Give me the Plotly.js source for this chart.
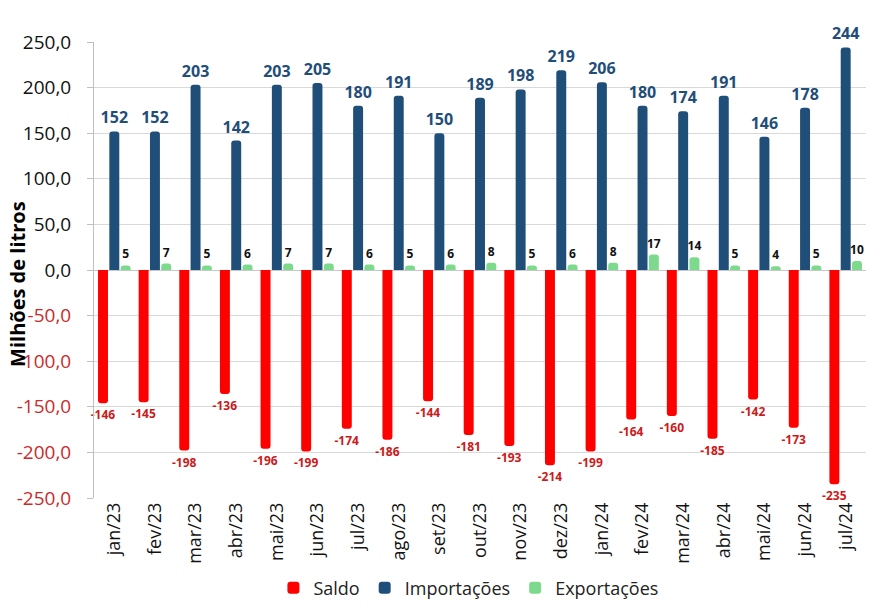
<!DOCTYPE html>
<html>
<head>
<meta charset="utf-8">
<script src="https://cdn.plot.ly/plotly-3.0.1.min.js"></script>
<style>html,body{margin:0;padding:0;background:#fff;}#chart{width:896px;height:608px;}</style>
</head>
<body>
<div id="chart"></div>
<script>
const categories = ["jan/23","fev/23","mar/23","abr/23","mai/23","jun/23","jul/23","ago/23","set/23","out/23","nov/23","dez/23","jan/24","fev/24","mar/24","abr/24","mai/24","jun/24","jul/24"];
const saldo = [-146,-145,-198,-136,-196,-199,-174,-186,-144,-181,-193,-214,-199,-164,-160,-185,-142,-173,-235];
const importacoes = [152,152,203,142,203,205,180,191,150,189,198,219,206,180,174,191,146,178,244];
const exportacoes = [5,7,5,6,7,7,6,5,6,8,5,6,8,17,14,5,4,5,10];
const yTickVals = [-250,-200,-150,-100,-50,0,50,100,150,200,250];
const yTitle = 'Milhões de litros';
const yTickText = yTickVals.map(v => {
  const s = v.toFixed(1).replace('.', ',');
  return v < 0 ? '<span style="color:#cc2a2a">' + s + '</span>' : s;
});

const common = {type:'bar', x:categories, textposition:'outside', cliponaxis:false, constraintext:'none', hoverinfo:'skip'};
const traces = [
  Object.assign({}, common, {name:'Saldo', y:saldo, text:saldo.map(String),
    marker:{color:'#ff0000'}, textfont:{family:'Open Sans', size:12, color:'#cc1a1a', weight:'bold'}}),
  Object.assign({}, common, {name:'Importações', y:importacoes, text:importacoes.map(String),
    marker:{color:'#1f4e79'}, textfont:{family:'Open Sans', size:16, color:'#1f4e79', weight:'bold'}}),
  Object.assign({}, common, {name:'Exportações', y:exportacoes, text:exportacoes.map(String),
    marker:{color:'#7dda8c'}, textfont:{family:'Open Sans', size:12, color:'#111111', weight:'bold'}})
];

const layout = {
  width:896, height:608,
  margin:{l:94, r:30, t:42, b:110, autoexpand:false},
  paper_bgcolor:'#ffffff', plot_bgcolor:'#ffffff',
  barmode:'group', bargap:0.165, bargroupgap:0.12, barcornerradius:3,
  font:{family:'Open Sans', color:'#000000'},
  showlegend:true,
  legend:{orientation:'h', x:0.485, xanchor:'center', yref:'container', y:0.033, yanchor:'middle',
    font:{family:'Open Sans', size:18, color:'#222222'}, itemwidth:30, tracegroupgap:0},
  xaxis:{type:'category', tickangle:-90, tickfont:{family:'Open Sans', size:18, color:'#111111'},
    showgrid:false, showline:false, zeroline:false, ticks:'', automargin:false},
  yaxis:{range:[-250,250], tickvals:yTickVals, ticktext:yTickText, automargin:false,
    tickfont:{family:'Open Sans', size:19, color:'#111111'}, ticklabelstandoff:12,
    showgrid:true, gridcolor:'#d9d9d9', gridwidth:1,
    zeroline:true, zerolinecolor:'#c8c8c8', zerolinewidth:1,
    showline:true, linecolor:'#bfbfbf', linewidth:1, ticks:'outside', ticklen:6, tickcolor:'#bfbfbf'},
  annotations:[{text:'<b>' + yTitle + '</b>', xref:'paper', yref:'paper', x:-0.1, y:0.469,
    xanchor:'center', yanchor:'middle', textangle:-90, showarrow:false,
    font:{family:'Open Sans', size:20, color:'#000000'}}]
};

Plotly.newPlot('chart', traces, layout, {staticPlot:true, displayModeBar:false});
</script>
</body>
</html>
